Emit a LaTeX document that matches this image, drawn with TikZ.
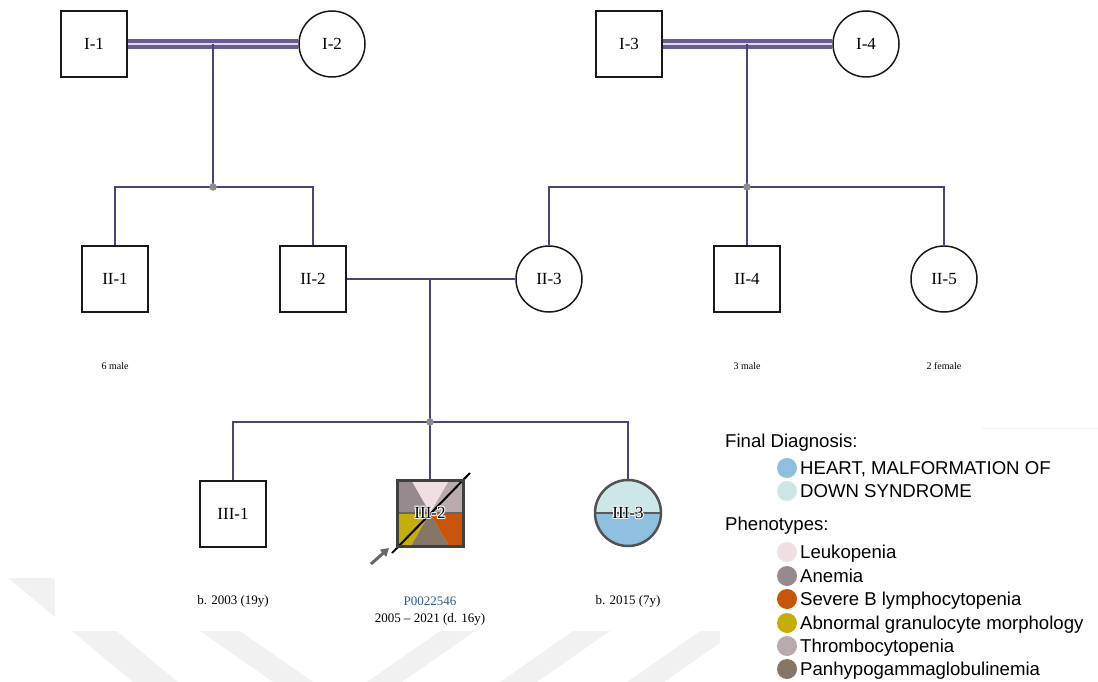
\documentclass[tikz,border=0pt]{standalone}
\usepackage{fontspec}
\setmainfont{Liberation Serif}
\newfontfamily\legendfont{Liberation Sans}
\usetikzlibrary{arrows.meta}
\pgfdeclarelayer{background}
\pgfsetlayers{background,main}

\definecolor{linecol}{HTML}{4B4478}
\definecolor{consout}{HTML}{6A5C92}
\definecolor{consin}{HTML}{E2D8EE}
\definecolor{wmark}{HTML}{F1F1F1}
\definecolor{heartcol}{HTML}{8FBFDF}
\definecolor{downcol}{HTML}{CDE6E8}
\definecolor{leukocol}{HTML}{EFDFE3}
\definecolor{anemiacol}{HTML}{978A8E}
\definecolor{severecol}{HTML}{C8550A}
\definecolor{granulocol}{HTML}{C6AE08}
\definecolor{thrombocol}{HTML}{B9AAAD}
\definecolor{panhypocol}{HTML}{857566}
\definecolor{idcol}{HTML}{2F5A94}

% label with a thin white outline
\newsavebox\halobox
\newcommand\halolabel[1]{\setbox\halobox=\hbox{#1}\rlap{\color{white}%
  \rlap{\kern-1pt\copy\halobox}\rlap{\kern1pt\copy\halobox}%
  \rlap{\raise1pt\copy\halobox}\rlap{\lower1pt\copy\halobox}%
  \rlap{\kern-.7pt\raise.7pt\copy\halobox}\rlap{\kern.7pt\raise.7pt\copy\halobox}%
  \rlap{\kern-.7pt\lower.7pt\copy\halobox}\rlap{\kern.7pt\lower.7pt\copy\halobox}}%
  \copy\halobox}

\tikzset{
  person/.style={draw=black!90, line width=1.5pt, minimum size=66pt, inner sep=0pt,
    font=\fontsize{17}{17}\selectfont},
  male/.style={person, rectangle, fill=white},
  female/.style={person, circle, fill=white},
  link/.style={draw=linecol, line width=2pt},
  consang/.style={draw=consout, line width=4.3pt, double=consin, double distance=2.3pt},
  junction/.style={circle, fill=black!45, inner sep=0pt, minimum size=7.5pt},
  count/.style={font=\fontsize{10}{10}\selectfont},
  info/.style={font=\fontsize{13}{13}\selectfont},
  legdot/.style={circle, inner sep=0pt, minimum size=20pt},
  legtext/.style={anchor=base west, inner sep=0pt, font=\legendfont\fontsize{18.6}{18.6}\selectfont},
}

\begin{document}
\begin{tikzpicture}[x=1pt,y=-1pt]
\useasboundingbox (0,0) rectangle (1098,682);

% generation I
\node[male]   (I1) at (94,44)  {I-1};
\node[female] (I2) at (332,44) {I-2};
\node[male]   (I3) at (629,44) {I-3};
\node[female] (I4) at (866,44) {I-4};

% generation II
\node[male]   (II1) at (115,279) {II-1};
\node[male]   (II2) at (313,279) {II-2};
\node[female] (II3) at (549,279) {II-3};
\node[male]   (II4) at (747,279) {II-4};
\node[female] (II5) at (944,279) {II-5};

% generation III
\node[male] (III1) at (233,514) {III-1};
\node[person, rectangle, draw=black!75, line width=3pt] (III2) at (430,513) {\halolabel{III-2}};
\node[person, circle, draw=black!68, line width=2.5pt] (III3) at (628,513) {\halolabel{III-3}};

% couples
\coordinate (m1) at (213,44);
\coordinate (m2) at (747,44);
\coordinate (m3) at (430,279);
\draw[consang] (I1.east) -- (I2.west);
\draw[consang] (I3.east) -- (I4.west);
\draw[link] (II2.east) -- (II3.west);

% sibships
\coordinate (s1) at (213,187);
\coordinate (s2) at (747,187);
\coordinate (s3) at (430,422);
\draw[link] (m1) -- (s1);
\draw[link] (II1.north) |- (s1) -| (II2.north);
\draw[link] (m2) -- (s2);
\draw[link] (II3.north) |- (s2) -| (II5.north);
\draw[link] (s2) -- (II4.north);
\draw[link] (m3) -- (s3);
\draw[link] (III1.north) |- (s3) -| (III3.north);
\draw[link] (s3) -- (III2.north);
\node[junction] (d1) at (s1) {};
\node[junction] (d2) at (s2) {};
\node[junction] (d3) at (s3) {};

% proband arrow
\coordinate (pa) at (371,564);
\coordinate (pb) at (389,548);
\draw[black!60, line width=3pt, -{Triangle[length=8pt,width=9pt]}] (pa) -- (pb);

% counts and dates
\node[count] (c1) at (115,366) {6 male};
\node[count] (c4) at (747,366) {3 male};
\node[count] (c5) at (944,366) {2 female};
\node[info] (b1) at (233,601) {b. 2003 (19y)};
\node[info, text=idcol] (pid) at (430,601) {P0022546};
\node[info] (b2) at (430,619) {2005 -- 2021 (d. 16y)};
\node[info] (b3) at (628,601) {b. 2015 (7y)};

% legend
\node[legtext] (lh1) at (725,447.5) {Final Diagnosis:};
\node[legdot, fill=heartcol] (ld1) at (787,468) {};
\node[legtext] (lt1) at (800,474.5) {HEART, MALFORMATION OF};
\node[legdot, fill=downcol] (ld2) at (787,491) {};
\node[legtext] (lt2) at (800,497.5) {DOWN SYNDROME};
\node[legtext] (lh2) at (725,530.5) {Phenotypes:};
\node[legdot, fill=leukocol] (ld3) at (787,552) {};
\node[legtext] (lt3) at (800,558.5) {Leukopenia};
\node[legdot, fill=anemiacol] (ld4) at (787,576) {};
\node[legtext] (lt4) at (800,582.5) {Anemia};
\node[legdot, fill=severecol] (ld5) at (787,599) {};
\node[legtext] (lt5) at (800,605.5) {Severe B lymphocytopenia};
\node[legdot, fill=granulocol] (ld6) at (787,623) {};
\node[legtext] (lt6) at (800,629.5) {Abnormal granulocyte morphology};
\node[legdot, fill=thrombocol] (ld7) at (787,646) {};
\node[legtext] (lt7) at (800,652.5) {Thrombocytopenia};
\node[legdot, fill=panhypocol] (ld8) at (787,669) {};
\node[legtext] (lt8) at (800,675.5) {Panhypogammaglobulinemia};

\begin{pgfonlayer}{background}
  % faint diagonal bands along the bottom of the page
  \fill[wmark] (8,578) -- (53,578) -- (178,682) -- (133,682) -- cycle;
  \fill[wmark] (124,578) -- (164,578) -- (313,682) -- (273,682) -- cycle;
  \fill[wmark] (516,578) -- (551,578) -- (402,682) -- (367,682) -- cycle;
  \fill[wmark] (649,578) -- (686,578) -- (537,682) -- (500,682) -- cycle;
  \fill[wmark] (776,578) -- (813,578) -- (664,682) -- (627,682) -- cycle;
  \fill[white] (55,0) rectangle (720,631);
  \fill[white] (720,0) rectangle (1098,682);
  \draw[wmark, line width=1pt] (982,428) -- (1098,428);

  % III-2: six phenotype sectors
  \fill[thrombocol] (430,513) -- (463,513) -- (463,480) -- (449,480) -- cycle;
  \fill[leukocol]   (430,513) -- (449,480) -- (411,480) -- cycle;
  \fill[anemiacol]  (430,513) -- (411,480) -- (397,480) -- (397,513) -- cycle;
  \fill[granulocol] (430,513) -- (397,513) -- (397,546) -- (411,546) -- cycle;
  \fill[panhypocol] (430,513) -- (411,546) -- (449,546) -- cycle;
  \fill[severecol]  (430,513) -- (449,546) -- (463,546) -- (463,513) -- cycle;
  \draw[black!60, line width=1.2pt] (III2.west) -- (III2.east);

  % deceased mark, beneath the label
  \coordinate (dl1) at (392,553);
  \coordinate (dl2) at (470,473);
  \draw[line width=2pt, black] (dl1) -- (dl2);

  % III-3: two diagnosis halves
  \fill[heartcol] (III3.center) circle[radius=33];
  \begin{scope}
    \clip (590,470) rectangle (666,513);
    \fill[downcol] (III3.center) circle[radius=33];
  \end{scope}
  \draw[black!65, line width=1.5pt] (III3.west) -- (III3.east);
\end{pgfonlayer}
\end{tikzpicture}
\end{document}
